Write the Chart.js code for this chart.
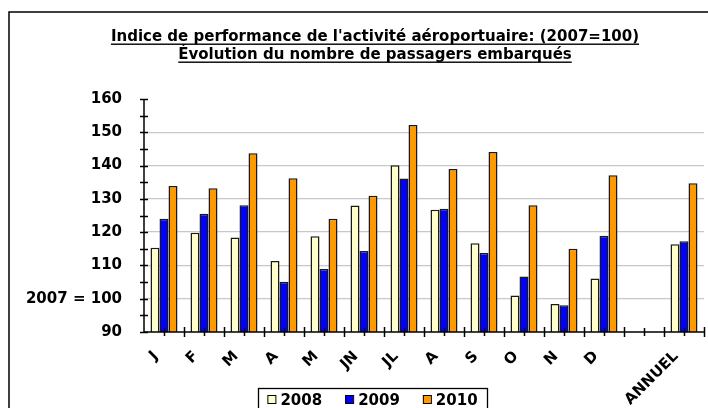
<!DOCTYPE html>
<html>
<head>
<meta charset="utf-8">
<script src="https://cdn.jsdelivr.net/npm/chart.js@4/dist/chart.umd.min.js"></script>
<style>
  body { margin: 0; background: #fff; }
  #wrap { width: 708px; height: 408px; }
</style>
</head>
<body>
<div id="wrap"><canvas id="chart" width="708" height="408"></canvas></div>
<script>
// données
const months = ['J', 'F', 'M', 'A', 'M', 'JN', 'JL', 'A', 'S', 'O', 'N', 'D', '', 'ANNUEL'];
const idx2008 = [115.3, 119.8, 118.4, 111.3, 118.8, 128.0, 140.1, 126.7, 116.7, 101.0, 98.4, 106.1, null, 116.4];
const idx2009 = [124.0, 125.5, 128.1, 105.1, 108.9, 114.3, 136.1, 127.0, 113.7, 106.7, 98.0, 118.9, null, 117.3];
const idx2010 = [133.9, 133.2, 143.7, 136.2, 124.0, 130.9, 152.2, 139.0, 144.1, 128.1, 115.0, 137.1, null, 134.7];
const titleLines = [
  "Indice de performance de l'activité aéroportuaire: (2007=100)",
  "Évolution du nombre de passagers embarqués"
];

const FONT = '"DejaVu Sans", Verdana, sans-serif';

// cadre, titre souligné, axes avec graduations croisées, étiquettes inclinées, légende encadrée
const decorPlugin = {
  id: 'decor',
  beforeDraw(chart) {
    const ctx = chart.ctx;
    ctx.save();
    ctx.fillStyle = '#fff';
    ctx.fillRect(0, 0, chart.width, chart.height);
    ctx.strokeStyle = '#000';
    ctx.lineWidth = 1.5;
    ctx.beginPath();
    ctx.moveTo(9, 408);
    ctx.lineTo(9, 12);
    ctx.lineTo(708, 12);
    ctx.stroke();
    ctx.restore();
  },
  afterDraw(chart) {
    const ctx = chart.ctx;
    const x = chart.scales.x, y = chart.scales.y;
    ctx.save();

    // titre
    ctx.fillStyle = '#000';
    ctx.font = 'bold 15px ' + FONT;
    ctx.textAlign = 'center';
    ctx.textBaseline = 'alphabetic';
    const baselines = [41, 59];
    titleLines.forEach((t, i) => {
      ctx.fillText(t, 375, baselines[i]);
      const w = ctx.measureText(t).width;
      ctx.fillRect(375 - w / 2, baselines[i] + 2.5, w, 1.4);
    });

    // axes
    ctx.strokeStyle = '#000';
    ctx.lineWidth = 1.5;
    ctx.beginPath();
    ctx.moveTo(x.left, y.top);
    ctx.lineTo(x.left, y.bottom);
    ctx.lineTo(x.right, y.bottom);
    ctx.stroke();

    ctx.beginPath();
    for (let v = 90; v <= 160; v += 5) {
      const py = Math.round(y.getPixelForValue(v)) + 0.5;
      ctx.moveTo(x.left - 4, py);
      ctx.lineTo(x.left + 4, py);
    }
    for (let i = 0; i < months.length; i++) {
      const b = Math.round(x.getPixelForValue(i + 0.5)) + 0.5;
      const c = Math.round(x.getPixelForValue(i)) + 0.5;
      ctx.moveTo(b, y.bottom - 5);
      ctx.lineTo(b, y.bottom + 5);
      ctx.moveTo(c, y.bottom - 4);
      ctx.lineTo(c, y.bottom + 4);
    }
    ctx.stroke();

    // étiquettes des mois, inclinées à 45°
    ctx.font = 'bold 15px ' + FONT;
    ctx.textAlign = 'right';
    ctx.textBaseline = 'middle';
    months.forEach((m, i) => {
      const c = x.getPixelForValue(i);
      ctx.save();
      ctx.translate(c - 8, y.bottom + 22);
      ctx.rotate(-Math.PI / 4);
      ctx.fillText(m, 0, 0);
      ctx.restore();
    });

    // légende
    const ds = chart.data.datasets;
    ctx.font = 'bold 15px ' + FONT;
    ctx.textAlign = 'left';
    ctx.textBaseline = 'alphabetic';
    const box = 8, gap = 5, spacing = 23;
    const widths = ds.map(d => box + gap + ctx.measureText(d.label).width);
    const total = widths.reduce((a, b) => a + b, 0) + spacing * (ds.length - 1);
    const cx = 372.5;
    const left = 258, right = 487, top = 388;
    ctx.lineWidth = 1.3;
    ctx.strokeRect(left + 0.5, top + 0.5, right - left, 40);
    let px = cx - total / 2;
    const base = 405;
    ds.forEach((d, i) => {
      ctx.fillStyle = d.backgroundColor;
      ctx.fillRect(px, base - 10, box, box);
      ctx.strokeStyle = '#000';
      ctx.lineWidth = 1;
      ctx.strokeRect(px + 0.5, base - 10 + 0.5, box, box);
      ctx.fillStyle = '#000';
      ctx.fillText(d.label, px + box + gap, base);
      px += widths[i] + spacing;
    });
    ctx.restore();
  }
};

const barStyle = { borderColor: '#1a1a1a', borderWidth: 1.5, borderSkipped: false };

new Chart(document.getElementById('chart'), {
  type: 'bar',
  data: {
    labels: months,
    datasets: [
      Object.assign({ label: '2008', data: idx2008, backgroundColor: '#FFFFCC' }, barStyle),
      Object.assign({ label: '2009', data: idx2009, backgroundColor: '#0000FF' }, barStyle),
      Object.assign({ label: '2010', data: idx2010, backgroundColor: '#FF9900' }, barStyle)
    ]
  },
  options: {
    responsive: false,
    animation: false,
    layout: { padding: { top: 99, left: 0, right: 4, bottom: 0 } },
    datasets: { bar: { categoryPercentage: 0.675, barPercentage: 1 } },
    plugins: {
      legend: { display: false },
      title: { display: false },
      tooltip: { enabled: false }
    },
    scales: {
      x: {
        offset: true,
        grid: { display: false, drawTicks: false },
        border: { display: false },
        afterFit(scale) { scale.height = 76; },
        ticks: { display: false, autoSkip: false }
      },
      y: {
        min: 90,
        max: 160,
        grid: {
          drawTicks: false,
          lineWidth: 1.3,
          color: c => (c.tick && c.tick.value > 90 && c.tick.value < 160) ? '#c8c8c8' : 'rgba(0,0,0,0)'
        },
        border: { display: false },
        afterFit(scale) { scale.width = 144; },
        ticks: {
          stepSize: 10,
          padding: 22,
          color: '#000',
          font: { family: FONT, size: 15, weight: 'bold' },
          callback: v => v === 100 ? '2007 = 100' : v
        }
      }
    }
  },
  plugins: [decorPlugin]
});
</script>
</body>
</html>
